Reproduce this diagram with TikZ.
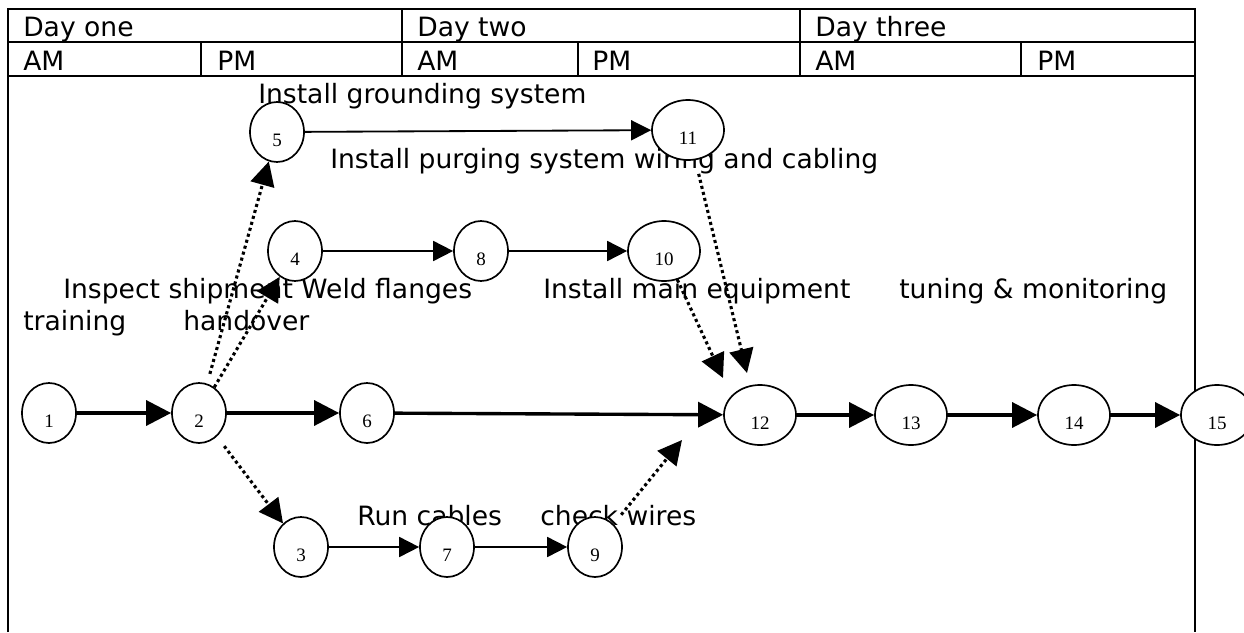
\documentclass[tikz,border=0pt]{standalone}
\usepackage{fontspec}
\setmainfont{DejaVu Sans}
\newfontfamily\numfont{Liberation Serif}
\usepackage{tikz}
\usetikzlibrary{arrows.meta,shapes.geometric}

\begin{document}
\begin{tikzpicture}[x=0.025cm, y=-0.025cm,
    main node/.style={ellipse, draw, fill=white, line width=1.2pt, inner sep=0pt,
                      minimum width=1.35cm, minimum height=1.5cm,
                      label={[inner sep=0pt, font=\numfont\fontsize{13.5}{14}\selectfont, yshift=-0.2cm]center:#1}},
    wide node/.style={main node=#1, minimum width=1.8cm},
    task/.style={anchor=base west, inner sep=0pt, font=\fontsize{18.9}{22}\selectfont},
    main/.style={-{Triangle[length=0.625cm, width=0.625cm]}, line width=2.4pt},
    side/.style={-{Triangle[length=0.5cm, width=0.5cm]}, line width=1.3pt},
    link/.style={-{Triangle[length=0.6cm, width=0.6cm]}, line width=2.2pt,
                 dash pattern=on 2.2pt off 2.2pt}]

  \clip (0,0) rectangle (1244,632);

  % time table
  \draw[line width=1.4pt] (8,632) -- (8,9) -- (1195,9) -- (1195,632);
  \draw[line width=1.4pt] (8,42) -- (1195,42) (8,76) -- (1195,76);
  \foreach \x in {402,800}
    \draw[line width=1.4pt] (\x,9) -- (\x,76);
  \foreach \x in {201,578,1021}
    \draw[line width=1.4pt] (\x,42) -- (\x,76);

  \node[task] (day1) at (23,36) {Day one};
  \node[task] (day2) at (417,36) {Day two};
  \node[task] (day3) at (815,36) {Day three};
  \node[task] (am1) at (23,70) {AM};
  \node[task] (pm1) at (217,70) {PM};
  \node[task] (am2) at (417,70) {AM};
  \node[task] (pm2) at (592,70) {PM};
  \node[task] (am3) at (815,70) {AM};
  \node[task] (pm3) at (1037,70) {PM};

  % activities
  \node[task] (ground) at (258,103) {Install grounding system};
  \node[task] (purge) at (330,168) {Install purging system wiring and cabling};
  \node[task] (inspect) at (63,298) {Inspect shipment Weld flanges};
  \node[task] (equip) at (543,298) {Install main equipment};
  \node[task] (tune) at (899,298) {tuning \& monitoring};
  \node[task] (train) at (23,330) {training};
  \node[task] (hand) at (183,330) {handover};
  \node[task] (cables) at (357,525) {Run cables};
  \node[task] (wires) at (540,525) {check wires};

  % events
  \node[main node=1] (1) at (49,413) {};
  \node[main node=2] (2) at (199,413) {};
  \node[main node=3] (3) at (301,547) {};
  \node[main node=4] (4) at (295,251) {};
  \node[main node=5] (5) at (277,132) {};
  \node[main node=6] (6) at (367,413) {};
  \node[main node=7] (7) at (447,547) {};
  \node[main node=8] (8) at (481,251) {};
  \node[main node=9] (9) at (595,547) {};
  \node[wide node=10] (10) at (664,251) {};
  \node[wide node=11] (11) at (688,130) {};
  \node[wide node=12] (12) at (760,415) {};
  \node[wide node=13] (13) at (911,415) {};
  \node[wide node=14] (14) at (1074,415) {};
  \node[wide node=15] (15) at (1217,415) {};

  \coordinate (in12a) at (682,440);
  \coordinate (in12b) at (723,378);
  \coordinate (in12c) at (747,373);

  \path[main]
    (1) edge (2)
    (2) edge (6)
    (6) edge (12)
    (12) edge (13)
    (13) edge (14)
    (14) edge (15);

  \path[side]
    (5) edge (11)
    (4) edge (8)
    (8) edge (10)
    (3) edge (7)
    (7) edge (9);

  \path[link]
    (2) edge[shorten <=0.25cm] (5)
        edge (4)
        edge[shorten <=0.3cm] (3)
    (9) edge[shorten <=0.3cm] (in12a)
    (10) edge (in12b)
    (11) edge[shorten <=0.35cm] (in12c);
\end{tikzpicture}
\end{document}
